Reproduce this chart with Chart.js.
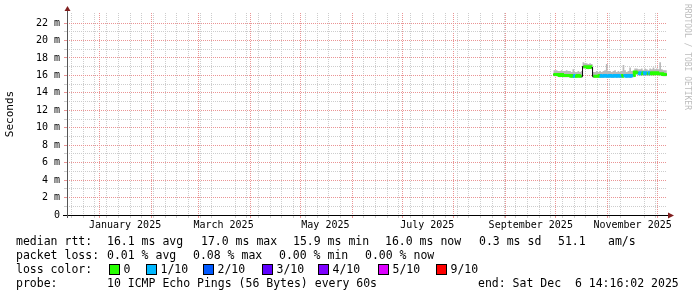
<!DOCTYPE html>
<html>
<head>
<meta charset="utf-8">
<script src="https://cdn.jsdelivr.net/npm/chart.js@4.4.1/dist/chart.umd.min.js"></script>
<style>
  html, body { margin: 0; padding: 0; background: #fff; }
  canvas { display: block; }
</style>
</head>
<body>
<canvas id="smoke" width="697" height="297"></canvas>
<script>
// one point per day, median rtt in ms
const days = [
  '2025-09-29','2025-09-30',
  '2025-10-01','2025-10-02','2025-10-03','2025-10-04','2025-10-05','2025-10-06','2025-10-07','2025-10-08',
  '2025-10-09','2025-10-10','2025-10-11','2025-10-12','2025-10-13','2025-10-14','2025-10-15','2025-10-16',
  '2025-10-17','2025-10-18','2025-10-19','2025-10-20','2025-10-21','2025-10-22','2025-10-23','2025-10-24',
  '2025-10-25','2025-10-26','2025-10-27','2025-10-28','2025-10-29','2025-10-30','2025-10-31',
  '2025-11-01','2025-11-02','2025-11-03','2025-11-04','2025-11-05','2025-11-06','2025-11-07','2025-11-08',
  '2025-11-09','2025-11-10','2025-11-11','2025-11-12','2025-11-13','2025-11-14','2025-11-15','2025-11-16',
  '2025-11-17','2025-11-18','2025-11-19','2025-11-20','2025-11-21','2025-11-22','2025-11-23','2025-11-24',
  '2025-11-25','2025-11-26','2025-11-27','2025-11-28','2025-11-29','2025-11-30',
  '2025-12-01','2025-12-02','2025-12-03','2025-12-04','2025-12-05','2025-12-06'
];
const median = [
  16.1,16.1,
  16.1,16.1,16.0,16.1,16.0,16.0,16.0,16.0,16.0,15.9,16.0,15.9,15.9,16.0,15.9,15.9,
  17.0,17.0,17.0,16.9,17.0,16.9,
  15.9,15.9,15.9,15.9,16.0,15.9,15.9,16.0,15.9,
  15.9,16.0,15.9,15.9,16.0,15.9,16.0,15.9,15.9,16.0,16.0,15.9,16.0,15.9,16.0,16.0,
  16.4,16.3,16.3,16.2,16.3,16.2,16.3,16.2,16.2,16.3,16.2,16.3,16.2,16.3,
  16.2,16.2,16.2,16.1,16.1,16.1
];
const smokeHi = [
  16.6,16.6,
  16.6,16.5,16.5,16.6,16.5,16.5,16.6,16.5,16.5,16.4,16.7,16.4,16.4,16.5,16.4,16.5,
  17.5,17.4,17.4,17.3,17.4,17.3,
  16.4,16.4,16.5,16.4,16.5,16.4,16.5,16.6,17.3,
  16.5,16.5,16.4,16.5,16.6,16.4,16.5,16.4,16.5,17.2,16.6,16.4,16.5,16.9,16.5,16.5,
  16.8,16.8,16.7,16.7,16.8,16.6,16.8,16.7,16.6,16.8,16.7,16.9,16.7,16.8,
  16.7,17.5,16.7,16.6,16.6,16.6
];
const smokeLo = [
  15.9,15.9,
  15.9,15.9,15.8,15.9,15.8,15.8,15.8,15.8,15.8,15.7,15.8,15.7,15.7,15.8,15.7,15.7,
  16.8,16.8,16.8,16.7,16.8,16.7,
  15.7,15.7,15.7,15.7,15.8,15.7,15.7,15.8,15.7,
  15.7,15.8,15.7,15.7,15.8,15.7,15.8,15.7,15.7,15.8,15.8,15.7,15.8,15.7,15.8,15.8,
  16.2,16.1,16.1,16.0,16.1,16.0,16.1,16.0,16.0,16.1,16.0,16.1,16.0,16.1,
  16.0,16.0,16.0,15.9,15.9,15.9
];
// lost pings out of 10 for each point
const loss = [
  0,0,
  0,0,0,0,0,0,0,0,0,0,1,0,0,0,0,0,
  0,0,0,0,0,0,
  0,0,0,0,1,1,1,1,1,
  1,1,1,1,1,1,1,1,0,1,1,1,1,1,1,0,
  0,0,1,1,0,1,1,0,1,0,0,0,0,0,
  0,0,0,0,0,0
];
const lossSteps = [0, 1, 2, 3, 4, 5, 9];
const lossColors = ['#26ff00', '#00b8ff', '#0059ff', '#5e00ff', '#7e00ff', '#dd00ff', '#ff0000'];
const lossLabels = ['0', '1/10', '2/10', '3/10', '4/10', '5/10', '9/10'];
const monthLabels = ['January 2025', 'March 2025', 'May 2025', 'July 2025', 'September 2025', 'November 2025'];
const statsRtt = ['16.1 ms avg', '17.0 ms max', '15.9 ms min', '16.0 ms now', '0.3 ms sd', '51.1', 'am/s'];
const statsLoss = ['0.01 % avg', '0.08 % max', '0.00 % min', '0.00 % now'];
const probeText = '10 ICMP Echo Pings (56 Bytes) every 60s';
const endText = 'end: Sat Dec  6 14:16:02 2025';

const DAY = 86400000;
const xMin = Date.UTC(2024, 11, 12, 5, 40);
const xMax = Date.UTC(2025, 11, 6, 14, 16);

function toMs(s) {
  const p = s.split('-').map(Number);
  return Date.UTC(p[0], p[1] - 1, p[2], 12);
}

// x grid: weekly minor lines, monthly major lines, labels in the middle of every 2nd month
const xKind = new Map();
const xLabel = new Map();
for (let t = Date.UTC(2024, 11, 15); t < xMax; t += 7 * DAY) xKind.set(t, 'minor');
for (let m = 0; m < 12; m++) xKind.set(Date.UTC(2025, m, 1), 'major');
monthLabels.forEach((lab, i) => {
  const t = Date.UTC(2025, i * 2, 16);
  xKind.set(t, 'label');
  xLabel.set(t, lab);
});
const xTicks = Array.from(xKind.keys()).sort((a, b) => a - b);

const MAJOR = '#ea9494';
const MINOR = '#cdcdcd';
const MONO = 'DejaVu Sans Mono';

function lossColor(i) {
  const l = loss[i];
  let k = 0;
  for (let j = 0; j < lossSteps.length; j++) if (l >= lossSteps[j]) k = j;
  return lossColors[k];
}

const decor = {
  id: 'decor',
  afterDraw(chart) {
    const ctx = chart.ctx;
    const a = chart.chartArea;
    ctx.save();

    // axes
    ctx.lineWidth = 1;
    ctx.strokeStyle = '#000';
    ctx.beginPath();
    ctx.moveTo(a.left - 4, a.bottom + 0.5);
    ctx.lineTo(a.right + 2, a.bottom + 0.5);
    ctx.stroke();
    ctx.strokeStyle = '#555';
    ctx.beginPath();
    ctx.moveTo(a.left + 0.5, a.bottom + 3);
    ctx.lineTo(a.left + 0.5, a.top - 3);
    ctx.stroke();

    // arrows
    ctx.fillStyle = '#801f1f';
    ctx.beginPath();
    ctx.moveTo(a.left - 2.5, a.top - 2);
    ctx.lineTo(a.left + 3.5, a.top - 2);
    ctx.lineTo(a.left + 0.5, a.top - 7);
    ctx.closePath();
    ctx.fill();
    ctx.beginPath();
    ctx.moveTo(a.right + 1, a.bottom - 2.5);
    ctx.lineTo(a.right + 1, a.bottom + 3.5);
    ctx.lineTo(a.right + 7, a.bottom + 0.5);
    ctx.closePath();
    ctx.fill();

    // watermark
    ctx.save();
    ctx.translate(687, 4);
    ctx.rotate(Math.PI / 2);
    ctx.fillStyle = '#bdbdbd';
    ctx.font = '8px "' + MONO + '"';
    ctx.textBaseline = 'middle';
    ctx.textAlign = 'left';
    ctx.fillText('RRDTOOL / TOBI OETIKER', 0, 0);
    ctx.restore();

    // legend
    ctx.fillStyle = '#000';
    ctx.font = '11.5px "' + MONO + '"';
    ctx.textBaseline = 'alphabetic';
    ctx.textAlign = 'left';
    const rttX = [107, 201, 293, 385, 479, 558, 608];
    ctx.fillText('median rtt:', 16, 245);
    statsRtt.forEach((s, i) => ctx.fillText(s, rttX[i], 245));
    const lossX = [107, 193, 279, 365];
    ctx.fillText('packet loss:', 16, 259);
    statsLoss.forEach((s, i) => ctx.fillText(s, lossX[i], 259));
    const boxX = [109, 146, 203, 262, 318, 378, 436];
    ctx.fillText('loss color:', 16, 273);
    lossLabels.forEach((s, i) => {
      ctx.fillStyle = lossColors[i];
      ctx.fillRect(boxX[i], 264, 10, 10);
      ctx.strokeStyle = '#000';
      ctx.strokeRect(boxX[i] + 0.5, 264.5, 10, 10);
      ctx.fillStyle = '#000';
      ctx.fillText(s, boxX[i] + 14.5, 273);
    });
    ctx.fillText('probe:', 16, 287);
    ctx.fillText(probeText, 107, 287);
    ctx.fillText(endText, 478, 287);

    ctx.restore();
  }
};

const xs = days.map(toMs);
const pts = arr => arr.map((v, i) => ({ x: xs[i], y: v }));

new Chart(document.getElementById('smoke').getContext('2d'), {
  type: 'line',
  data: {
    datasets: [
      {
        data: pts(median),
        order: 0,
        borderWidth: 3,
        borderColor: lossColors[0],
        pointRadius: 0,
        stepped: 'middle',
        fill: false,
        segment: {
          borderColor: c => Math.abs(c.p1.parsed.y - c.p0.parsed.y) > 0.4 ? '#111' : lossColor(c.p0DataIndex),
          borderWidth: c => Math.abs(c.p1.parsed.y - c.p0.parsed.y) > 0.4 ? 1 : 3
        }
      },
      {
        data: pts(median),
        order: 1,
        borderWidth: 1,
        borderColor: '#111',
        pointRadius: 0,
        stepped: 'middle',
        fill: false
      },
      {
        data: pts(smokeHi),
        order: 2,
        borderWidth: 0,
        borderColor: 'rgba(0,0,0,0)',
        backgroundColor: '#b9b9b9',
        pointRadius: 0,
        stepped: 'middle',
        fill: '+1'
      },
      {
        data: pts(smokeLo),
        order: 3,
        borderWidth: 0,
        borderColor: 'rgba(0,0,0,0)',
        pointRadius: 0,
        stepped: 'middle',
        fill: false
      }
    ]
  },
  options: {
    responsive: false,
    animation: false,
    devicePixelRatio: 1,
    layout: { padding: { left: 0, right: 30, top: 13, bottom: 0 } },
    plugins: { legend: { display: false }, tooltip: { enabled: false } },
    scales: {
      x: {
        type: 'linear',
        min: xMin,
        max: xMax,
        afterFit: s => { s.height = 82; },
        afterBuildTicks: s => { s.ticks = xTicks.map(v => ({ value: v })); },
        border: { display: false, dash: [1, 1] },
        grid: {
          lineWidth: 1,
          tickLength: 3,
          color: c => {
            const k = xKind.get(c.tick && c.tick.value);
            return k === 'major' ? MAJOR : k === 'minor' ? MINOR : 'rgba(0,0,0,0)';
          }
        },
        ticks: {
          autoSkip: false,
          maxRotation: 0,
          minRotation: 0,
          padding: 1,
          color: '#000',
          font: { family: MONO, size: 10 },
          callback: v => xLabel.get(v) || ''
        }
      },
      y: {
        type: 'linear',
        min: 0,
        max: 23.15,
        afterFit: s => { s.width = 67; },
        afterBuildTicks: s => {
          const t = [];
          for (let v = 0; v <= 22; v++) t.push({ value: v });
          s.ticks = t;
        },
        border: { display: false, dash: [1, 1] },
        grid: {
          lineWidth: 1,
          tickLength: 3,
          color: c => {
            const v = c.tick && c.tick.value;
            if (v === 0) return 'rgba(0,0,0,0)';
            return v % 2 === 0 ? MAJOR : MINOR;
          }
        },
        ticks: {
          autoSkip: false,
          padding: 4,
          color: '#000',
          font: { family: MONO, size: 10 },
          callback: v => v === 0 ? '0' : (v % 2 === 0 ? v + ' m' : '')
        },
        title: {
          display: true,
          text: 'Seconds',
          color: '#000',
          padding: { top: 4, bottom: 0 },
          font: { family: MONO, size: 11 }
        }
      }
    }
  },
  plugins: [decor]
});
</script>
</body>
</html>
